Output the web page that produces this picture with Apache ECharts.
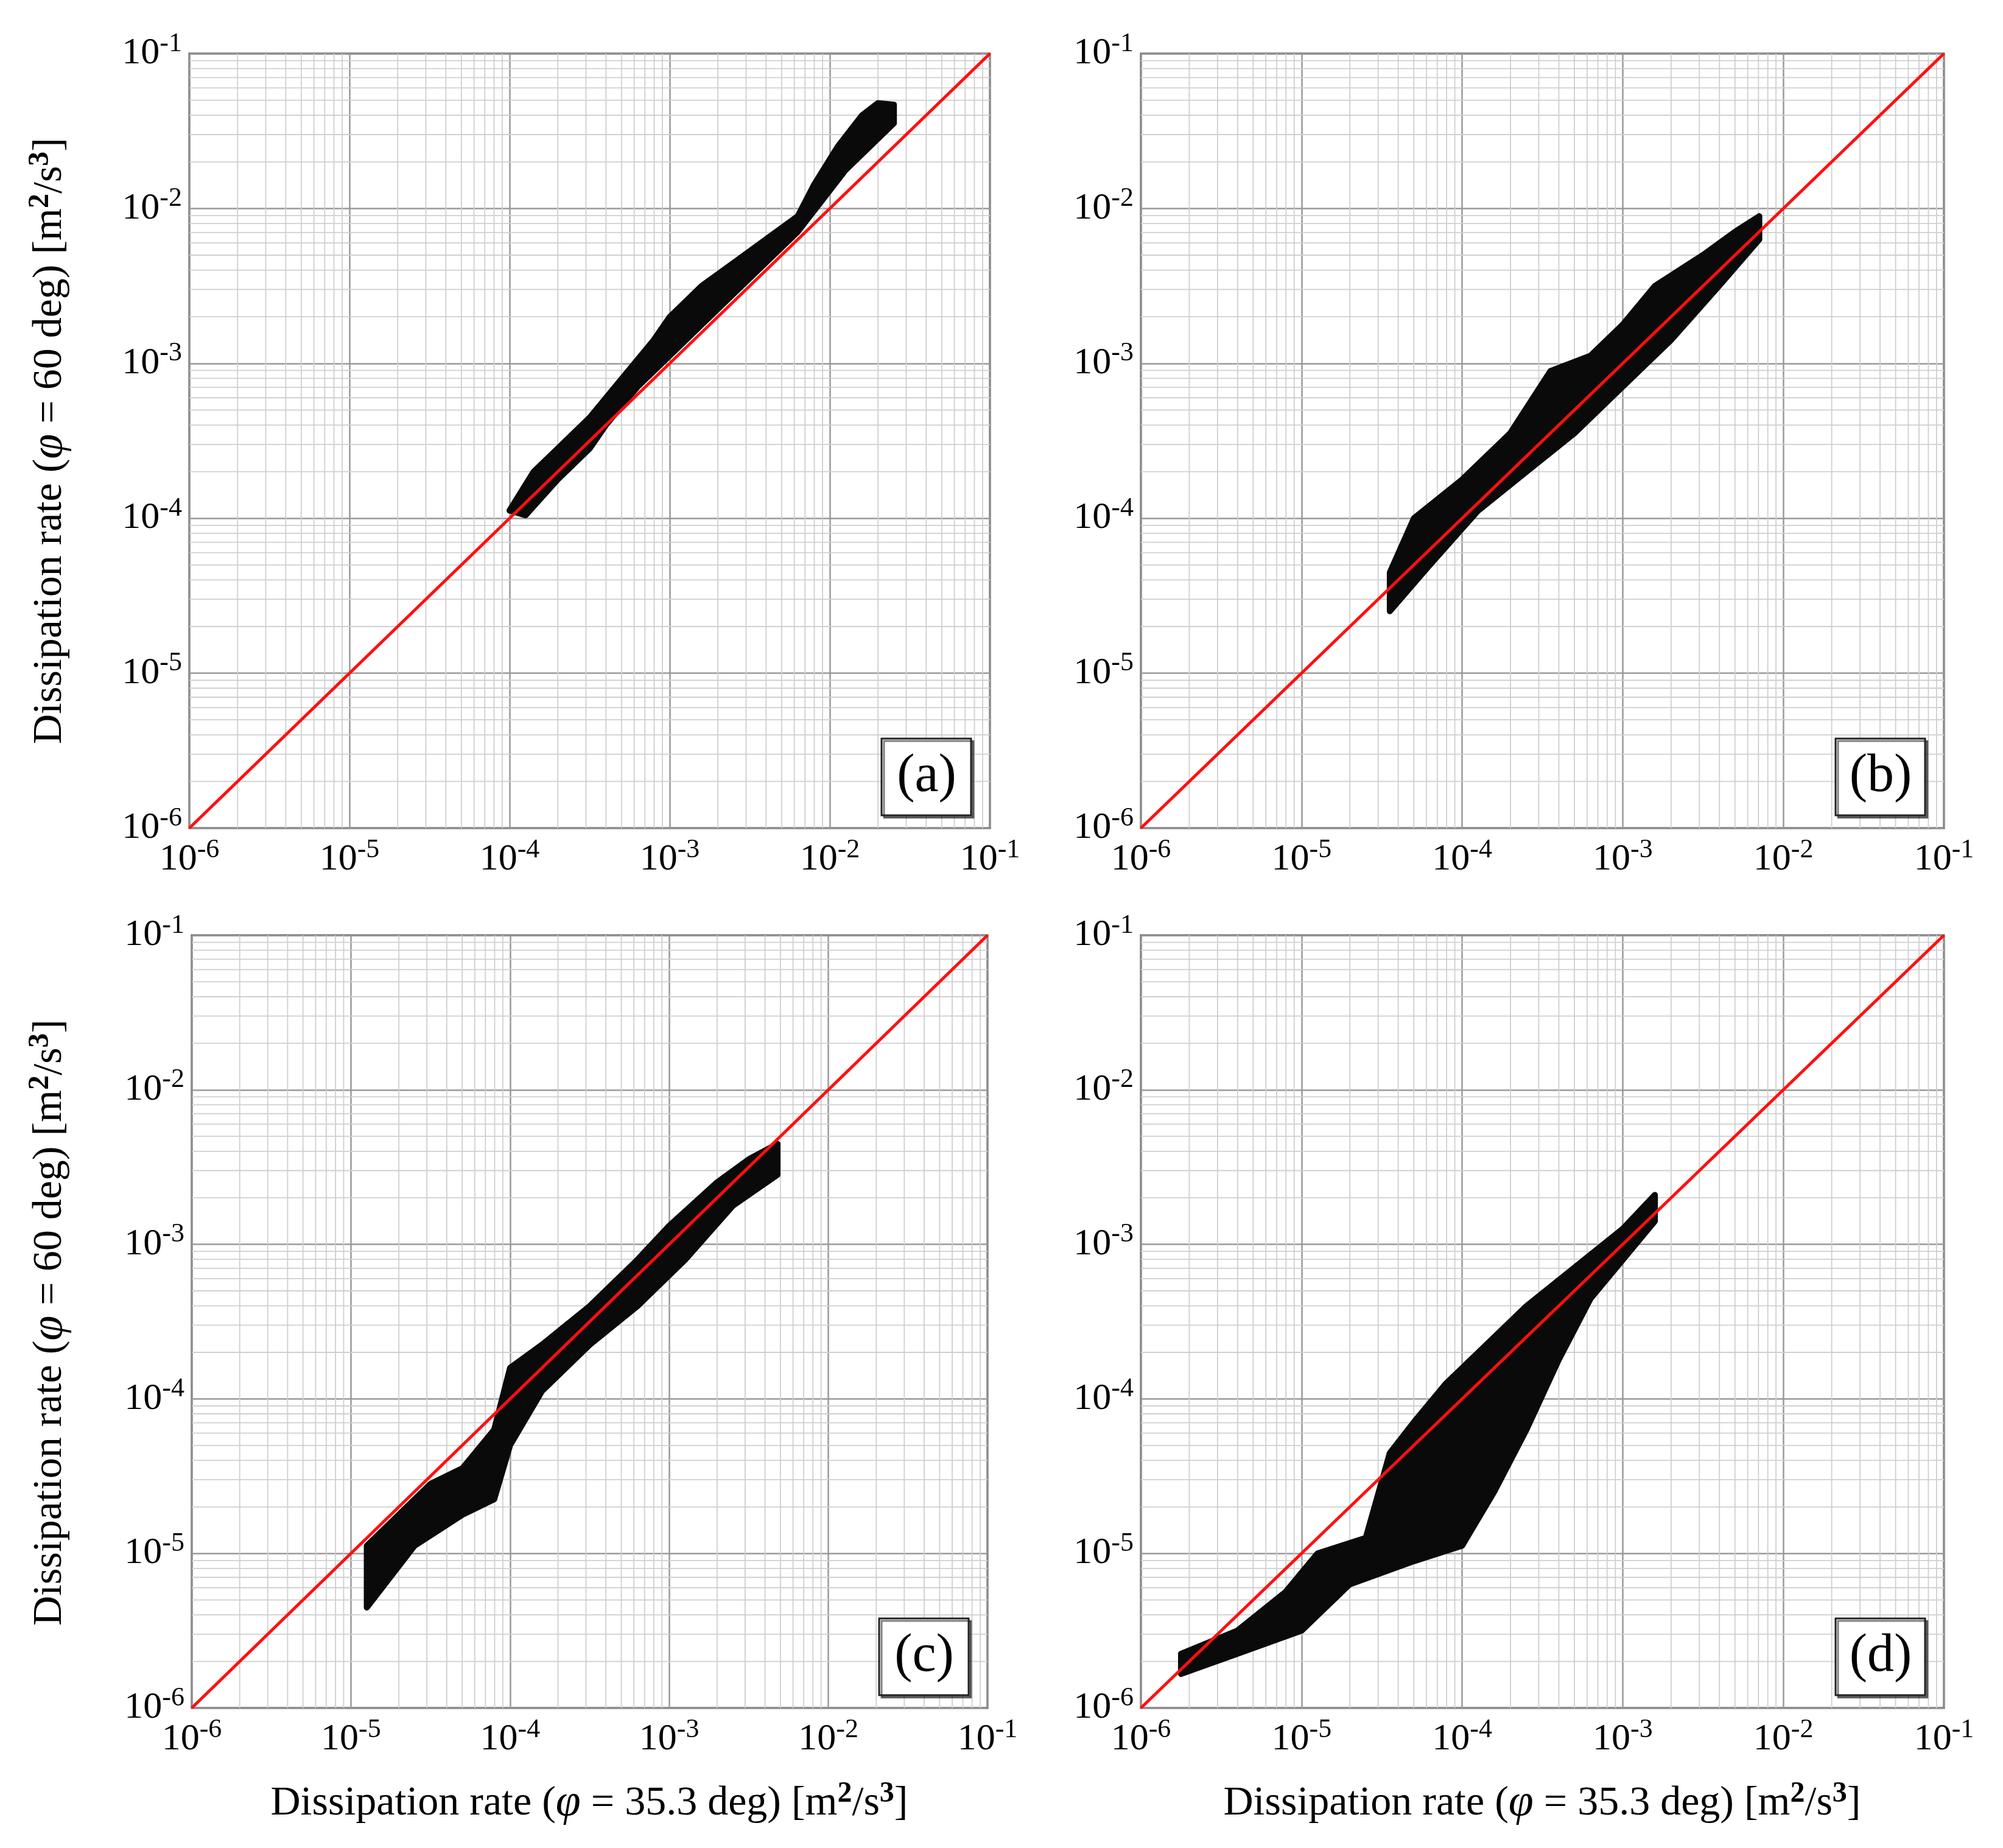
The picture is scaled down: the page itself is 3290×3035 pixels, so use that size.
<!DOCTYPE html>
<html>
<head>
<meta charset="utf-8">
<script src="https://cdn.jsdelivr.net/npm/echarts@6/dist/echarts.min.js"></script>
<style>html,body{margin:0;padding:0;background:#fff}#chart{width:3290px;height:3035px}</style>
</head>
<body>
<div id="chart"></div>
<script>
// all values are log10 exponents (axis runs 1e-6 .. 1e-1)
const decades = [-6, -5, -4, -3, -2, -1];
const panelLabels = ['(a)', '(b)', '(c)', '(d)'];
const diagonal = [[-6, -6], [-1, -1]];

// outline of each point cloud: upper edge then lower edge back
const cloudA = [[-4,-3.95],[-3.85,-3.7],[-3.7,-3.55],[-3.5,-3.35],[-3.3,-3.1],[-3.1,-2.85],[-3,-2.7],[-2.8,-2.5],[-2.6,-2.35],[-2.4,-2.2],[-2.2,-2.05],[-2.1,-1.85],[-1.95,-1.6],[-1.8,-1.4],[-1.7,-1.32],[-1.6,-1.33],
  [-1.6,-1.45],[-1.75,-1.6],[-1.9,-1.75],[-2.05,-1.95],[-2.2,-2.15],[-2.4,-2.35],[-2.7,-2.65],[-3,-2.95],[-3.2,-3.15],[-3.4,-3.4],[-3.5,-3.55],[-3.7,-3.75],[-3.9,-3.98]];
const cloudB = [[-4.45,-4.35],[-4.3,-4.0],[-4.0,-3.75],[-3.7,-3.45],[-3.45,-3.05],[-3.2,-2.95],[-3.0,-2.75],[-2.8,-2.5],[-2.5,-2.3],[-2.3,-2.15],[-2.15,-2.05],
  [-2.15,-2.2],[-2.4,-2.5],[-2.7,-2.85],[-3,-3.15],[-3.3,-3.45],[-3.6,-3.7],[-3.9,-3.95],[-4.2,-4.3],[-4.45,-4.6]];
const cloudC = [[-4.9,-4.95],[-4.7,-4.75],[-4.5,-4.55],[-4.3,-4.45],[-4.1,-4.2],[-4.0,-3.8],[-3.8,-3.65],[-3.5,-3.4],[-3.2,-3.1],[-3,-2.88],[-2.7,-2.6],[-2.5,-2.45],[-2.32,-2.35],
  [-2.32,-2.55],[-2.6,-2.75],[-2.9,-3.1],[-3.2,-3.4],[-3.5,-3.65],[-3.8,-3.95],[-4.0,-4.3],[-4.1,-4.65],[-4.3,-4.75],[-4.6,-4.95],[-4.9,-5.35]];
const cloudD = [[-5.75,-5.65],[-5.4,-5.5],[-5.1,-5.25],[-4.9,-5.0],[-4.6,-4.9],[-4.45,-4.35],[-4.3,-4.15],[-4.1,-3.9],[-3.9,-3.7],[-3.6,-3.4],[-3.3,-3.15],[-3.0,-2.9],[-2.8,-2.68],
  [-2.8,-2.85],[-3.0,-3.1],[-3.2,-3.35],[-3.4,-3.75],[-3.6,-4.2],[-3.8,-4.6],[-4.0,-4.95],[-4.3,-5.05],[-4.7,-5.2],[-5.0,-5.5],[-5.4,-5.65],[-5.75,-5.78]];
const clouds = [cloudA, cloudB, cloudC, cloudD];

// minor grid positions (2..9 within each decade)
const minorPos = [];
for (let d = -6; d < -1; d++) for (let k = 2; k <= 9; k++) minorPos.push([d + Math.log10(k)]);

const grids = [
  {left: 311, top: 88, width: 1315, height: 1272},
  {left: 1874, top: 88, width: 1319, height: 1272},
  {left: 315, top: 1536, width: 1307, height: 1269},
  {left: 1874, top: 1536, width: 1319, height: 1269}
];

const font = '"Liberation Serif", "Times New Roman", serif';
const rich = {
  b: {fontFamily: font, fontSize: 62, color: '#000'},
  s: {fontFamily: font, fontSize: 44, color: '#000', padding: [0, 0, 32, 0]}
};
const fmt = v => '{b|10}{s|' + v + '}';

const chart = echarts.init(document.getElementById('chart'));
const series = [];
const xAxis = [], yAxis = [];
grids.forEach((g, i) => {
  xAxis.push({gridIndex: i, type: 'value', min: -6, max: -1, interval: 1,
    axisLine: {show: false}, axisTick: {show: false},
    splitLine: {lineStyle: {color: '#999', width: 2.5}},
    axisLabel: {formatter: fmt, rich: rich, margin: 14}});
  yAxis.push({gridIndex: i, type: 'value', min: -6, max: -1, interval: 1,
    axisLine: {show: false}, axisTick: {show: false},
    splitLine: {lineStyle: {color: '#999', width: 2.5}},
    axisLabel: {formatter: fmt, rich: rich, margin: 12}});
  series.push({type: 'custom', xAxisIndex: i, yAxisIndex: i, data: minorPos, z: 1, silent: true,
    renderItem: (p, api) => {
      const v = api.value(0);
      const a = api.coord([v, -6]), b = api.coord([v, -1]);
      const c = api.coord([-6, v]), d = api.coord([-1, v]);
      return {type: 'group', children: [
        {type: 'line', shape: {x1: a[0], y1: a[1], x2: b[0], y2: b[1]}, style: {stroke: '#cfcfcf', lineWidth: 1.8}},
        {type: 'line', shape: {x1: c[0], y1: c[1], x2: d[0], y2: d[1]}, style: {stroke: '#cfcfcf', lineWidth: 1.8}}
      ]};
    }});
  series.push({type: 'custom', xAxisIndex: i, yAxisIndex: i, data: [[0]], z: 3, silent: true,
    renderItem: (p, api) => ({type: 'polygon', shape: {points: clouds[i].map(q => api.coord(q))},
      style: {fill: '#0a0a0a', stroke: '#0a0a0a', lineWidth: 10, lineJoin: 'round'}})});
  series.push({type: 'line', xAxisIndex: i, yAxisIndex: i, data: diagonal, symbol: 'none', z: 5,
    lineStyle: {color: '#ff1010', width: 5}});
});

const graphic = [];
grids.forEach((g, i) => {
  const right = g.left + g.width, bottom = g.top + g.height;
  graphic.push({type: 'rect', z: 10, shape: {x: right - 178, y: bottom - 147, width: 147, height: 126},
    style: {fill: '#fff', stroke: '#222', lineWidth: 3, shadowColor: 'rgba(0,0,0,0.5)', shadowOffsetX: 4, shadowOffsetY: 4}});
  graphic.push({type: 'text', z: 11, x: right - 104, y: bottom - 84,
    style: {text: panelLabels[i], font: '88px ' + font, fill: '#000', align: 'center', verticalAlign: 'middle'}});
});
const titleRich = {
  t: {fontFamily: font, fontSize: 68, color: '#000'},
  i: {fontFamily: font, fontSize: 74, fontStyle: 'italic', color: '#000'},
  sup: {fontFamily: font, fontSize: 48, fontWeight: 'bold', color: '#000', padding: [0, 0, 30, 0]}
};
const yTitle = '{t|Dissipation rate (}{i|φ}{t| = 60 deg) [m}{sup|2}{t|/s}{sup|3}{t|]}';
const xTitle = '{t|Dissipation rate (}{i|φ}{t| = 35.3 deg) [m}{sup|2}{t|/s}{sup|3}{t|]}';
[724, 2172].forEach(cy => graphic.push({type: 'text', x: 82, y: cy, rotation: Math.PI / 2,
  style: {text: yTitle, rich: titleRich, align: 'center', verticalAlign: 'middle'}}));
[968, 2533].forEach(cx => graphic.push({type: 'text', x: cx, y: 2962,
  style: {text: xTitle, rich: titleRich, align: 'center', verticalAlign: 'middle'}}));

chart.setOption({
  animation: false,
  grid: grids.map(g => Object.assign({show: true, borderColor: '#444', borderWidth: 3, backgroundColor: '#fff'}, g)),
  xAxis: xAxis, yAxis: yAxis, series: series, graphic: graphic
});
</script>
</body>
</html>
